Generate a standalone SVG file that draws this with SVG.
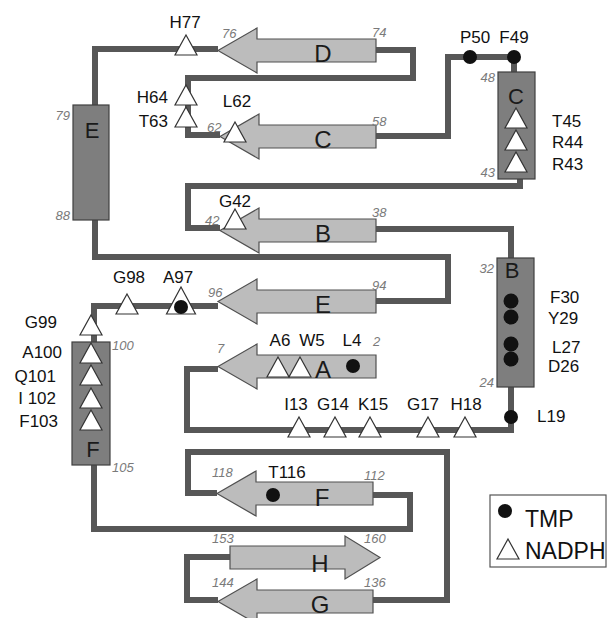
<svg xmlns="http://www.w3.org/2000/svg" xmlns:xlink="http://www.w3.org/1999/xlink" width="609" height="618" viewBox="0 0 609 618">
<style>
.bg{fill:#ffffff}
.ln{fill:none;stroke:#575757;stroke-width:6;stroke-linejoin:miter;stroke-linecap:butt}
.strand{fill:#bcbcbc;stroke:#505050;stroke-width:1.2}
.helix{fill:#7e7e7e;stroke:#404040;stroke-width:1.2}
.sl{font-family:"Liberation Sans",Arial,sans-serif;font-size:24px;fill:#1a1a1a;text-anchor:middle}
.hl{font-family:"Liberation Sans",Arial,sans-serif;font-size:22px;fill:#1a1a1a;text-anchor:middle}
.lab{font-family:"Liberation Sans",Arial,sans-serif;font-size:17px;fill:#111}
.mid{text-anchor:middle}
.end{text-anchor:end}
.num{font-family:"Liberation Sans",Arial,sans-serif;font-size:13px;font-style:italic;fill:#7a7a7a}
.leg{font-family:"Liberation Sans",Arial,sans-serif;font-size:23px;fill:#111}
.tri{fill:#ffffff;stroke:#333;stroke-width:1.2}
.dot{fill:#111}
</style>
<defs>
<polygon id="tri" class="tri" points="0,-13 11,7 -11,7"/>
</defs>
<rect class="bg" x="0" y="0" width="609" height="618"/>

<g id="connectors">
<path class="ln" d="M218,49 H95 V105"/>
<path class="ln" d="M376,50 H413 V78 H188 V135 H220"/>
<path class="ln" d="M376,136 H448 V57 H514 V72"/>
<path class="ln" d="M520,179 V186 H188 V228 H220"/>
<path class="ln" d="M376,229 H511 V258"/>
<path class="ln" d="M511,387 V430 H187 V369 H218"/>
<path class="ln" d="M95,220 V257 H448 V301 H376"/>
<path class="ln" d="M218,306 H94 V342"/>
<path class="ln" d="M94,465 V529 H410 V495 H373"/>
<path class="ln" d="M217,493 H188 V452 H447 V600 H373"/>
<path class="ln" d="M218,600 H187 V557 H230"/>
</g>

<g id="strand-D">
<polygon class="strand" points="218,50.5 257,28 257,39 376,39 376,62 257,62 257,73"/>
<text class="sl" x="323" y="62">D</text>
<text class="num" x="222" y="38">76</text>
<text class="num" x="372" y="37">74</text>
</g>
<g id="strand-C">
<polygon class="strand" points="220,136.5 259,114 259,125 376,125 376,148 259,148 259,159"/>
<text class="sl" x="323" y="148">C</text>
<text class="num" x="207" y="132">62</text>
<text class="num" x="372" y="126">58</text>
</g>
<g id="strand-B">
<polygon class="strand" points="220,230.5 259,208 259,219 376,219 376,242 259,242 259,253"/>
<text class="sl" x="323" y="242">B</text>
<text class="num" x="205" y="225">42</text>
<text class="num" x="372" y="217">38</text>
</g>
<g id="strand-E">
<polygon class="strand" points="218,301.5 257,279 257,290 376,290 376,313 257,313 257,324"/>
<text class="sl" x="323" y="313">E</text>
<text class="num" x="208" y="297">96</text>
<text class="num" x="372" y="290">94</text>
</g>
<g id="strand-A">
<polygon class="strand" points="218,366.5 257,344 257,355 376,355 376,378 257,378 257,389"/>
<text class="sl" x="323" y="378">A</text>
<text class="num" x="217" y="353">7</text>
<text class="num" x="373" y="346">2</text>
</g>
<g id="strand-F">
<polygon class="strand" points="217,493.5 256,471 256,482 373,482 373,505 256,505 256,516"/>
<text class="sl" x="322" y="506">F</text>
<text class="num" x="212" y="477">118</text>
<text class="num" x="364" y="480">112</text>
</g>
<g id="strand-H">
<polygon class="strand" points="380,557.5 345,536 345,546 230,546 230,569 345,569 345,579"/>
<text class="sl" x="320" y="572">H</text>
<text class="num" x="212" y="543">153</text>
<text class="num" x="364" y="543">160</text>
</g>
<g id="strand-G">
<polygon class="strand" points="218,601.5 257,579 257,590 373,590 373,613 257,613 257,624"/>
<text class="sl" x="320" y="613">G</text>
<text class="num" x="212" y="587">144</text>
<text class="num" x="364" y="587">136</text>
</g>

<g id="helix-E">
<rect class="helix" x="73" y="105" width="36" height="115"/>
<text class="hl" x="92" y="138">E</text>
<text class="num end" x="70" y="120">79</text>
<text class="num end" x="70" y="220">88</text>
</g>
<g id="helix-C">
<rect class="helix" x="498" y="72" width="37" height="107"/>
<text class="hl" x="516" y="104">C</text>
<text class="num end" x="495" y="82">48</text>
<text class="num end" x="495" y="177">43</text>
</g>
<g id="helix-B">
<rect class="helix" x="497" y="258" width="37" height="129"/>
<text class="hl" x="512" y="278">B</text>
<text class="num end" x="494" y="273">32</text>
<text class="num end" x="494" y="387">24</text>
</g>
<g id="helix-F">
<rect class="helix" x="72" y="342" width="38" height="123"/>
<text class="hl" x="93" y="457">F</text>
<text class="num" x="112" y="350">100</text>
<text class="num" x="112" y="472">105</text>
</g>

<g id="nadph-sites">
<use xlink:href="#tri" x="186" y="48"/>
<use xlink:href="#tri" x="186" y="98"/>
<use xlink:href="#tri" x="186" y="120"/>
<use xlink:href="#tri" x="235" y="135"/>
<use xlink:href="#tri" x="235" y="222"/>
<use xlink:href="#tri" x="516" y="121"/>
<use xlink:href="#tri" x="516" y="143"/>
<use xlink:href="#tri" x="516" y="165"/>
<use xlink:href="#tri" x="127" y="307"/>
<polygon class="tri" points="181,287 195.5,314 166.5,314"/>
<use xlink:href="#tri" x="91" y="328"/>
<use xlink:href="#tri" x="91" y="356"/>
<use xlink:href="#tri" x="91" y="378"/>
<use xlink:href="#tri" x="91" y="401"/>
<use xlink:href="#tri" x="91" y="423"/>
<use xlink:href="#tri" x="278" y="370"/>
<use xlink:href="#tri" x="300" y="370"/>
<use xlink:href="#tri" x="299" y="430"/>
<use xlink:href="#tri" x="335" y="430"/>
<use xlink:href="#tri" x="370" y="430"/>
<use xlink:href="#tri" x="428" y="430"/>
<use xlink:href="#tri" x="465" y="430"/>
</g>

<g id="tmp-sites">
<circle class="dot" cx="470" cy="57" r="7"/>
<circle class="dot" cx="514" cy="57" r="7"/>
<circle class="dot" cx="511" cy="301" r="7.5"/>
<circle class="dot" cx="511" cy="317" r="7.5"/>
<circle class="dot" cx="511" cy="344" r="7.5"/>
<circle class="dot" cx="511" cy="359" r="7.5"/>
<circle class="dot" cx="511" cy="417" r="7"/>
<circle class="dot" cx="353" cy="366" r="7"/>
<circle class="dot" cx="181" cy="307" r="7"/>
<circle class="dot" cx="273" cy="495" r="7"/>
</g>

<g id="residue-labels">
<text class="lab mid" x="185" y="28">H77</text>
<text class="lab end" x="168" y="103">H64</text>
<text class="lab end" x="168" y="127">T63</text>
<text class="lab mid" x="237" y="107">L62</text>
<text class="lab mid" x="475" y="43">P50</text>
<text class="lab mid" x="514" y="43">F49</text>
<text class="lab" x="552" y="127">T45</text>
<text class="lab" x="552" y="148">R44</text>
<text class="lab" x="552" y="170">R43</text>
<text class="lab mid" x="235" y="207">G42</text>
<text class="lab" x="550" y="303">F30</text>
<text class="lab" x="548" y="324">Y29</text>
<text class="lab" x="552" y="353">L27</text>
<text class="lab" x="548" y="372">D26</text>
<text class="lab" x="537" y="422">L19</text>
<text class="lab mid" x="129" y="283">G98</text>
<text class="lab mid" x="178" y="283">A97</text>
<text class="lab end" x="57" y="328">G99</text>
<text class="lab end" x="62" y="358">A100</text>
<text class="lab end" x="56" y="382">Q101</text>
<text class="lab end" x="56" y="404">I 102</text>
<text class="lab end" x="58" y="427">F103</text>
<text class="lab mid" x="280" y="346">A6</text>
<text class="lab mid" x="312" y="346">W5</text>
<text class="lab mid" x="352" y="346">L4</text>
<text class="lab mid" x="296" y="410">I13</text>
<text class="lab mid" x="333" y="410">G14</text>
<text class="lab mid" x="373" y="410">K15</text>
<text class="lab mid" x="423" y="410">G17</text>
<text class="lab mid" x="466" y="410">H18</text>
<text class="lab mid" x="287" y="478">T116</text>
</g>

<g id="legend">
<rect x="490" y="495" width="116" height="72" fill="#ffffff" stroke="#555" stroke-width="1.2"/>
<circle class="dot" cx="505" cy="511" r="7"/>
<text class="leg" x="525" y="527">TMP</text>
<use xlink:href="#tri" x="508" y="552"/>
<text class="leg" x="525" y="559">NADPH</text>
</g>
</svg>
